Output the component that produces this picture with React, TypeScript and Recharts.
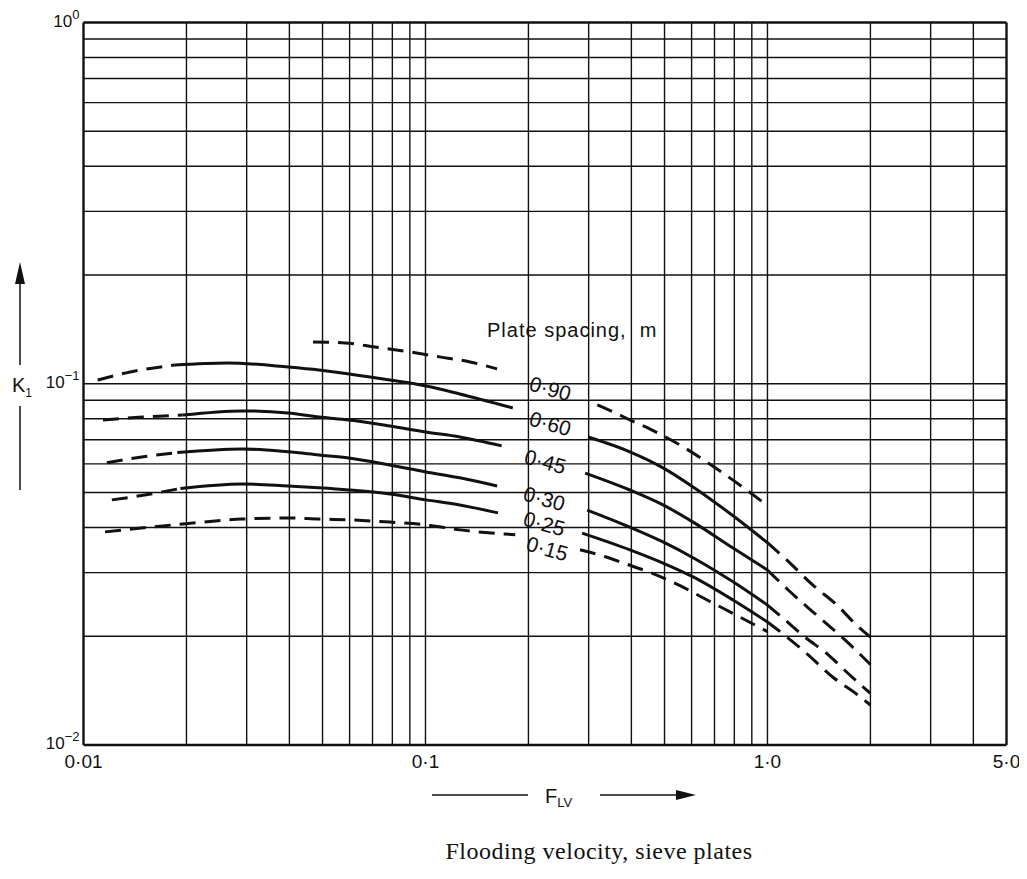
import React from 'react';
import { LineChart, Line, XAxis, YAxis, ReferenceLine } from 'recharts';

// log grid, x = F_LV, y = K1
const xGrid = [0.02, 0.03, 0.04, 0.05, 0.06, 0.07, 0.08, 0.09, 0.1, 0.2, 0.3, 0.4, 0.5, 0.6, 0.7, 0.8, 0.9, 1, 2, 3, 4];
const yGrid = [0.02, 0.03, 0.04, 0.05, 0.06, 0.07, 0.08, 0.09, 0.1, 0.2, 0.3, 0.4, 0.5, 0.6, 0.7, 0.8, 0.9];
const xTicks = [0.01, 0.1, 1, 5];
const xTickLabels = ['0·01', '0·1', '1·0', '5·0'];
const yTicks = [0.01, 0.1, 1];
const yTickExps = ['−2', '−1', '0'];

// [F_LV, K1], one array per drawn stroke
const s090Left = [[0.0469, 0.1305], [0.0582, 0.1297], [0.0712, 0.1264], [0.0901, 0.1225], [0.110, 0.1187], [0.135, 0.1149], [0.162, 0.1099]];
const s090Right = [[0.318, 0.0874], [0.355, 0.0835], [0.396, 0.0794], [0.454, 0.0749], [0.566, 0.0669], [0.741, 0.0566], [1.0, 0.046]];

const s060LeftDash = [[0.0110, 0.1024], [0.0137, 0.1078], [0.0185, 0.1127]];
const s060LeftSolid = [[0.0185, 0.1127], [0.0263, 0.1142], [0.0396, 0.1113], [0.0488, 0.1092], [0.0597, 0.1064], [0.0787, 0.1024], [0.1003, 0.0986], [0.126, 0.0937], [0.180, 0.0857]];
const s060RightSolid = [[0.299, 0.0712], [0.396, 0.0648], [0.495, 0.0585], [0.606, 0.0518], [0.793, 0.0431], [1.0, 0.0363]];
const s060RightDash = [[1.0, 0.0363], [1.14, 0.0325], [1.358, 0.0277], [1.596, 0.0244], [1.828, 0.0214], [2.0, 0.0199]];

const s045LeftDash = [[0.0114, 0.0794], [0.0149, 0.0809], [0.0195, 0.0819]];
const s045LeftSolid = [[0.0195, 0.0819], [0.0291, 0.0841], [0.0396, 0.083], [0.0488, 0.0809], [0.0597, 0.0794], [0.0787, 0.0764], [0.1003, 0.0735], [0.126, 0.0712], [0.167, 0.0673]];
const s045RightSolid = [[0.293, 0.0566], [0.396, 0.0508], [0.495, 0.0462], [0.606, 0.0414], [0.793, 0.0351], [1.0, 0.0305]];
const s045RightDash = [[1.0, 0.0305], [1.148, 0.0269], [1.313, 0.024], [1.503, 0.0215], [1.719, 0.0192], [2.0, 0.0167]];

const s030LeftDash = [[0.0117, 0.0604], [0.0148, 0.0627], [0.0188, 0.0645]];
const s030LeftSolid = [[0.0188, 0.0645], [0.0291, 0.066], [0.0396, 0.0648], [0.0488, 0.0635], [0.0597, 0.0623], [0.0787, 0.0596], [0.1003, 0.057], [0.126, 0.0549], [0.162, 0.0521]];
const s030RightSolid = [[0.297, 0.0447], [0.396, 0.0401], [0.495, 0.0365], [0.606, 0.033], [0.793, 0.0283], [1.0, 0.0244]];
const s030RightDash = [[1.0, 0.0244], [1.125, 0.0222], [1.287, 0.0199], [1.503, 0.0178], [1.719, 0.0158], [2.0, 0.0139]];

const s025LeftDash = [[0.0121, 0.0477], [0.0151, 0.0492], [0.0192, 0.0513]];
const s025LeftSolid = [[0.0192, 0.0513], [0.0291, 0.0528], [0.0396, 0.0521], [0.0488, 0.0515], [0.0597, 0.0508], [0.0787, 0.0495], [0.1003, 0.0477], [0.126, 0.0462], [0.163, 0.0439]];
const s025RightSolid = [[0.287, 0.0386], [0.396, 0.0347], [0.495, 0.0319], [0.606, 0.0292], [0.793, 0.0252], [1.0, 0.0219]];
const s025RightDash = [[1.0, 0.0219], [1.14, 0.0199], [1.313, 0.0178], [1.554, 0.0154], [1.828, 0.0138], [2.0, 0.0129]];

const s015Left = [[0.01156, 0.0389], [0.0195, 0.0409], [0.0291, 0.0422], [0.0396, 0.0425], [0.0488, 0.0422], [0.0597, 0.042], [0.0787, 0.0414], [0.1003, 0.0407], [0.126, 0.0394], [0.183, 0.0382]];
const s015Right = [[0.283, 0.0347], [0.336, 0.0332], [0.379, 0.0319], [0.463, 0.0298], [0.555, 0.0276], [0.666, 0.0252], [0.831, 0.0226], [1.0, 0.0206]];

const curveLabels = ['0·90', '0·60', '0·45', '0·30', '0·25', '0·15'];

const toPts = (arr: number[][]) => arr.map(([x, y]) => ({ x, y }));

const strokes: { data: number[][]; dashed: boolean }[] = [
  { data: s090Left, dashed: true },
  { data: s090Right, dashed: true },
  { data: s060LeftDash, dashed: true },
  { data: s060LeftSolid, dashed: false },
  { data: s060RightSolid, dashed: false },
  { data: s060RightDash, dashed: true },
  { data: s045LeftDash, dashed: true },
  { data: s045LeftSolid, dashed: false },
  { data: s045RightSolid, dashed: false },
  { data: s045RightDash, dashed: true },
  { data: s030LeftDash, dashed: true },
  { data: s030LeftSolid, dashed: false },
  { data: s030RightSolid, dashed: false },
  { data: s030RightDash, dashed: true },
  { data: s025LeftDash, dashed: true },
  { data: s025LeftSolid, dashed: false },
  { data: s025RightSolid, dashed: false },
  { data: s025RightDash, dashed: true },
  { data: s015Left, dashed: true },
  { data: s015Right, dashed: true },
];

const INK = '#111';
const FONT = '"Liberation Sans", Arial, sans-serif';
const W = 1011;
const H = 871;

// label anchors in chart pixels
const labelPos = [[520, 382], [520, 417], [515, 455], [514, 492], [514, 517], [517, 542]];

const renderXTick = (props: any) => {
  const i = xTicks.indexOf(props.payload.value);
  return (
    <text x={props.x} y={props.y + 15} textAnchor="middle" fill={INK} style={{ fontSize: 19, fontFamily: FONT }}>
      {xTickLabels[i]}
    </text>
  );
};

const renderYTick = (props: any) => {
  const i = yTicks.indexOf(props.payload.value);
  return (
    <text x={props.x + 4} y={props.y + 4} textAnchor="end" fill={INK} style={{ fontSize: 17, fontFamily: FONT }}>
      <tspan>10</tspan>
      <tspan dy={-8} style={{ fontSize: 13 }}>{yTickExps[i]}</tspan>
    </text>
  );
};

const App: React.FC = () => {
  return (
    <div style={{ position: 'relative', width: W, height: H, background: 'white' }}>
      <LineChart width={W} height={H} margin={{ top: 14.5, right: 12.5, bottom: 104, left: 5.5 }}>
        <XAxis
          dataKey="x"
          type="number"
          scale="log"
          domain={[0.01, 5]}
          allowDataOverflow
          ticks={xTicks}
          tick={renderXTick}
          tickLine={false}
          axisLine={false}
          height={30}
        />
        <YAxis
          type="number"
          scale="log"
          domain={[0.01, 1]}
          allowDataOverflow
          ticks={yTicks}
          tick={renderYTick}
          tickLine={false}
          axisLine={false}
          width={70}
        />
        {xGrid.map((v) => (
          <ReferenceLine key={`gx-${v}`} x={v} stroke={INK} strokeWidth={1.4} />
        ))}
        {yGrid.map((v) => (
          <ReferenceLine key={`gy-${v}`} y={v} stroke={INK} strokeWidth={1.4} />
        ))}
        <ReferenceLine x={0.01} stroke={INK} strokeWidth={2.4} />
        <ReferenceLine x={5} stroke={INK} strokeWidth={2.4} />
        <ReferenceLine y={0.01} stroke={INK} strokeWidth={2.4} />
        <ReferenceLine y={1} stroke={INK} strokeWidth={2.4} />
        {strokes.map((s, i) => (
          <Line
            key={`s-${i}`}
            data={toPts(s.data)}
            dataKey="y"
            type="monotone"
            stroke={INK}
            strokeWidth={3}
            strokeDasharray={s.dashed ? '16 9' : undefined}
            dot={false}
            activeDot={false}
            legendType="none"
            isAnimationActive={false}
          />
        ))}
      </LineChart>

      <svg width={W} height={H} style={{ position: 'absolute', left: 0, top: 0, pointerEvents: 'none' }}>
        <g fontFamily={FONT} fill={INK}>
          <text x={479} y={329} fontSize={20} letterSpacing={1}>Plate spacing,{'\u00a0\u00a0'}m</text>
          {curveLabels.map((t, i) => (
            <text
              key={t}
              x={labelPos[i][0]}
              y={labelPos[i][1]}
              fontSize={21}
              transform={`rotate(16 ${labelPos[i][0]} ${labelPos[i][1]})`}
            >
              {t}
            </text>
          ))}

          {/* y axis title with arrow */}
          <line x1={12} y1={482} x2={12} y2={398} stroke={INK} strokeWidth={1.5} />
          <line x1={12} y1={357} x2={12} y2={270} stroke={INK} strokeWidth={1.5} />
          <polygon points="12,254 7,276 17,276" />
          <text x={4} y={384} fontSize={20}>
            K<tspan dy={5} fontSize={12}>1</tspan>
          </text>

          {/* x axis title with arrow */}
          <line x1={424} y1={787} x2={520} y2={787} stroke={INK} strokeWidth={1.5} />
          <text x={537} y={795} fontSize={20}>
            F<tspan dy={4} fontSize={13}>LV</tspan>
          </text>
          <line x1={592} y1={787} x2={676} y2={787} stroke={INK} strokeWidth={1.5} />
          <polygon points="688,787 668,782 668,792" />

          <text x={591} y={851} fontSize={24} letterSpacing={0.5} textAnchor="middle" fontFamily='"Liberation Serif", "Times New Roman", serif'>
            Flooding velocity, sieve plates
          </text>
        </g>
      </svg>
    </div>
  );
};

export default App;
